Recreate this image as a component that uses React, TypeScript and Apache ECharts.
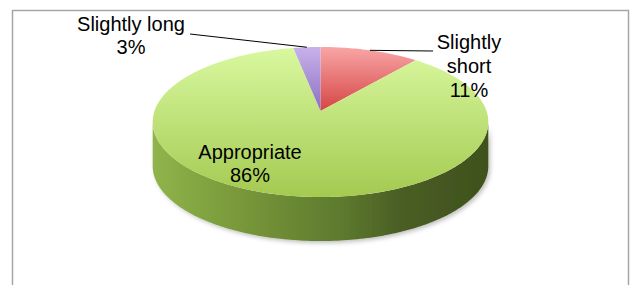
import React, { useEffect, useRef } from "react";
import * as echarts from "echarts";

// ---- data ----
const categories = ["Slightly short", "Appropriate", "Slightly long"];
const values = [11, 86, 3];

// ---- layout / style (not data) ----
const CX = 320.5;
const CY = 111;
const RA = 166;
const RB = 73.4;
const PK = 0.1467; // perspective factor
const DEPTH = 44;

const labelCenters = [
  { x: 469, y: 66, lh: 24 },
  { x: 250, y: 163, lh: 23 },
  { x: 131, y: 35.5, lh: 23 },
];
const leaderAnchors = [
  { x: 433, y: 51 },
  null,
  { x: 190, y: 34 },
];

const topColors = [
  ["#f8a6a6", "#d64444"],
  ["#d9f89f", "#a4ca51"],
  ["#c9b2ea", "#8a70c2"],
];
const sideColors = [
  ["#d86a6a", "#8a2a2a"],
  ["#90b44b", "#3f511d"],
  ["#a08ad0", "#5a4890"],
];

function project(deg: number) {
  const t = (deg * Math.PI) / 180;
  const u = Math.sin(t);
  const c = Math.cos(t);
  const den = 1 + PK * c;
  return [CX + (RA * u) / den, CY - (RB * c) / den];
}

function arcPoints(d1: number, d2: number, dy = 0) {
  const pts: number[][] = [];
  const n = Math.max(2, Math.ceil(Math.abs(d2 - d1) / 1));
  for (let i = 0; i <= n; i++) {
    const d = d1 + ((d2 - d1) * i) / n;
    const p = project(d);
    pts.push([p[0], p[1] + dy]);
  }
  return pts;
}

const total = values.reduce((s, v) => s + v, 0);
const sideStart = (Math.acos(-PK) * 180) / Math.PI;
const sideEnd = 360 - sideStart;

function renderItem(params: any, api: any) {
  const idx = params.dataIndex;
  const v = api.value(0);
  let before = 0;
  for (let i = 0; i < idx; i++) before += values[i];
  const d1 = (before / total) * 360;
  const d2 = ((before + v) / total) * 360;
  const children: any[] = [];

  // side wall (visible front part)
  const s1 = Math.max(d1, sideStart);
  const s2 = Math.min(d2, sideEnd);
  if (s2 > s1) {
    const topArc = arcPoints(s1, s2, 0);
    const botArc = arcPoints(s2, s1, DEPTH);
    const sc = sideColors[idx];
    children.push({
      type: "polygon",
      z2: 1,
      shape: { points: topArc.concat(botArc) },
      style: {
        fill: new echarts.graphic.LinearGradient(1, 0, 0, 0, [
          { offset: 0, color: sc[1] },
          { offset: 0.26, color: "#4a5e24" },
          { offset: 0.44, color: "#5e7a2e" },
          { offset: 0.74, color: "#78983a" },
          { offset: 1, color: sc[0] },
        ]),
        shadowBlur: 4,
        shadowOffsetX: 2,
        shadowOffsetY: 2,
        shadowColor: "rgba(0,0,0,0.25)",
      },
    });
  }

  // top face
  const tc = topColors[idx];
  const topPts = [[CX, CY]].concat(arcPoints(d1, d2, 0));
  children.push({
    type: "polygon",
    z2: 2,
    shape: { points: topPts },
    style: {
      fill: new echarts.graphic.LinearGradient(0, 0, 0, 1, [
        { offset: 0, color: tc[0] },
        { offset: 1, color: tc[1] },
      ]),
    },
  });

  // leader line
  const anchor = leaderAnchors[idx];
  if (anchor) {
    const mid = project((d1 + d2) / 2);
    children.push({
      type: "line",
      z2: 3,
      shape: { x1: mid[0], y1: mid[1], x2: anchor.x, y2: anchor.y },
      style: { stroke: "#000", lineWidth: 1 },
    });
  }

  // label
  const pct = Math.round((v / total) * 100) + "%";
  const name = categories[idx];
  const lc = labelCenters[idx];
  const text = idx === 0 ? "Slightly\nshort\n" + pct : name + "\n" + pct;
  children.push({
    type: "text",
    z2: 4,
    style: {
      text,
      x: lc.x,
      y: lc.y,
      fill: "#000",
      fontSize: 20,
      fontFamily: "Liberation Sans, Arial, sans-serif",
      align: "center",
      verticalAlign: "middle",
      lineHeight: lc.lh,
    },
  });

  return { type: "group", children };
}

export default function App() {
  const ref = useRef<HTMLDivElement>(null);
  useEffect(() => {
    if (!ref.current) return;
    const chart = echarts.init(ref.current, undefined, { renderer: "svg" });
    chart.setOption({
      animation: false,
      backgroundColor: "#ffffff",
      graphic: [
        {
          type: "polyline",
          shape: {
            points: [
              [12.5, 290],
              [12.5, 10.5],
              [628.5, 10.5],
              [628.5, 290],
            ],
          },
          style: { stroke: "#a6a6a6", lineWidth: 1.5, fill: "none" },
          silent: true,
        },
      ],
      series: [
        {
          type: "custom",
          coordinateSystem: "none",
          silent: true,
          data: values,
          renderItem,
        },
      ],
    });
    return () => chart.dispose();
  }, []);
  return (
    <div
      ref={ref}
      style={{ position: "fixed", left: 0, top: 0, width: 630, height: 285, background: "#fff" }}
    />
  );
}
